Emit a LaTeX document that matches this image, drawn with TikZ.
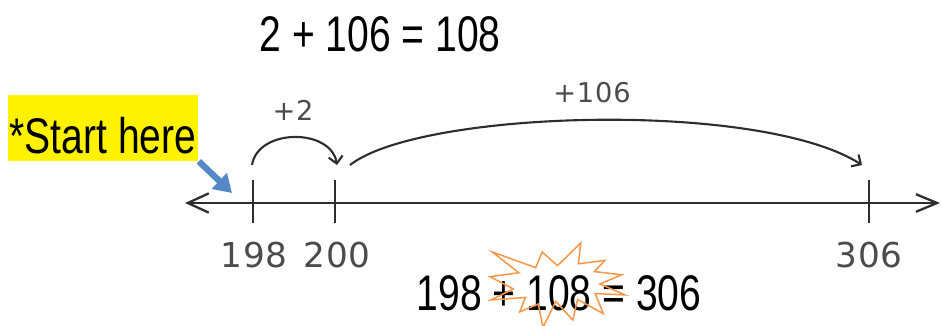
\documentclass[tikz,border=0pt]{standalone}
\usepackage{fontspec}
\setmainfont{Liberation Sans}
\newfontfamily\eqfont[FakeStretch=0.78]{Liberation Sans}
\newfontfamily\handfont[LetterSpace=3]{DejaVu Sans}
\usepackage{tikz}
\usetikzlibrary{arrows.meta}

\begin{document}
\begin{tikzpicture}[x=0.02cm, y=-0.02cm]
\definecolor{ink}{RGB}{45,45,45}
\definecolor{pencil}{RGB}{75,75,75}
\definecolor{hint}{RGB}{84,136,198}
\definecolor{burst}{RGB}{247,150,70}
\tikzset{
  bigsum/.style={font=\eqfont\fontsize{28.5}{34}\selectfont, inner sep=0pt, anchor=base},
  numlabel/.style={font=\handfont\fontsize{19.5}{24}\selectfont, text=pencil, inner sep=0pt, anchor=base},
  jumplabel/.style={font=\handfont\fontsize{15.5}{18}\selectfont, text=pencil, inner sep=0pt, anchor=base},
  jump/.style={ink, line width=1.2pt, -{Straight Barb[length=4pt,width=8pt]}},
  tick/.style={ink, line width=1.2pt}
}
\useasboundingbox (0,0) rectangle (942,325);

% Top sum
\node[bigsum] (topsum) at (380,51) {2 + 106 = 108};

% Start note with pointer
\node[bigsum, anchor=center, fill=yellow, inner xsep=1.2pt, text height=1.16cm, text depth=0.16cm] (start) at (103,128) {*Start here};
\coordinate (aim) at (232,193);
\draw[hint, line width=3.6pt, -{Triangle[length=10pt,width=12pt]}] (start.south east) -- (aim);

% ---- NUMBER LINE ----
\coordinate (lend) at (185,203);
\coordinate (rend) at (940,203);
\draw[ink, line width=1.3pt, {Straight Barb[length=12pt,width=11pt]}-{Straight Barb[length=12pt,width=10pt]}] (lend) -- (rend);

% Ticks
\draw[tick] (253,180) -- (253,223);
\draw[tick] (335,180) -- (335,223);
\draw[tick] (869,180) -- (869,223);
\node[numlabel] (n198) at (254,267) {198};
\node[numlabel] (n200) at (337,267) {200};
\node[numlabel] (n306) at (869,267) {306};

% ---- JUMPS ----
\coordinate (j198) at (252,165);
\coordinate (j200) at (337,165);
\coordinate (k200) at (350,165);
\coordinate (j306) at (862,165);
\draw[jump] (j198) .. controls (258,128) and (331,128) .. (j200);
\draw[jump] (k200) .. controls (420,110) and (760,100) .. (j306);
\node[jumplabel] (plus2) at (293,120) {+2};
\node[jumplabel] (plus106) at (592,102) {+106};

% Bottom sum
\node[bigsum] (botsum) at (559,310) {198 + 108 = 306};

% Explosion outline over the sum
\begin{scope}[shift={(490,243)}, x=0.0125cm, y=-0.00782cm]
\draw[burst, line width=0.85pt] (108,58) -- (83.52,22.95) -- (73.12,63.20) -- (3.70,22.95)
  -- (46.27,76.17) -- (0,86.15) -- (37.22,117.75) -- (1.35,145.87) -- (56.67,139.37)
  -- (47.62,176.17) -- (77.15,156.27) -- (84.85,216) -- (105.32,149.35) -- (132.47,197.37)
  -- (140.20,144.57) -- (181.45,180.95) -- (168.37,129.42) -- (216,132.90) -- (176.07,104.75)
  -- (210.97,81.37) -- (167.02,73.15) -- (183.80,44.57) -- (141.55,53.25) -- (145.22,0) -- cycle;
\end{scope}

\end{tikzpicture}
\end{document}
